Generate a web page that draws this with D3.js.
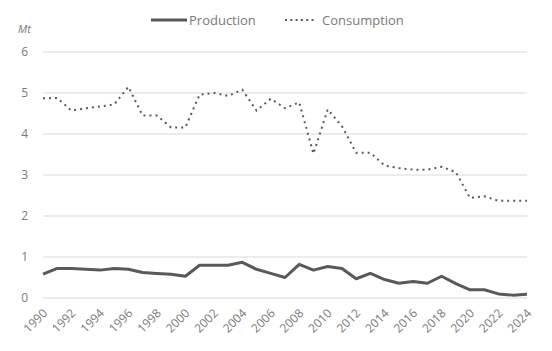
<!DOCTYPE html>
<html lang="en">
<head>
	<meta charset="UTF-8">
	<title>production vs consumption</title>
	<style>
		body { margin: 0; background: #fff; }
		text { font-family: "Open Sans", sans-serif; fill: #7a7a7a; }
	</style>
</head>
<body>
	<svg id="cont" width="552" height="351"></svg>
</body>
<script src="https://cdn.jsdelivr.net/npm/d3@7"></script>
<script>
	let years = d3.range(1990, 2025)
	let production = [0.58,0.72,0.72,0.70,0.68,0.72,0.70,0.62,0.60,0.58,0.53,0.80,0.80,0.80,0.87,0.70,0.60,0.50,0.82,0.68,0.77,0.72,0.47,0.60,0.45,0.36,0.40,0.36,0.53,0.35,0.20,0.20,0.10,0.07,0.09]
	let consumption = [4.87,4.88,4.57,4.63,4.67,4.72,5.15,4.45,4.45,4.16,4.16,4.96,5.00,4.93,5.08,4.57,4.86,4.63,4.77,3.52,4.60,4.19,3.54,3.54,3.23,3.17,3.13,3.13,3.20,3.07,2.44,2.48,2.37,2.37,2.37]
	let yticks = [0,1,2,3,4,5,6]
	let xticks = d3.range(1990, 2025, 2)

	let svg = d3.select("#cont")
	let x = d3.scaleLinear().domain([1990, 2024]).range([43, 527])
	let y = d3.scaleLinear().domain([0, 6]).range([298, 52])

	// grid
	svg.append("g").selectAll("line")
		.data(yticks)
		.enter().append("line")
		.attr("x1", 43).attr("x2", 527)
		.attr("y1", d => y(d)).attr("y2", d => y(d))
		.attr("stroke", "#d9d9d9").attr("stroke-width", 1)

	// y labels
	svg.append("g").selectAll("text")
		.data(yticks)
		.enter().append("text")
		.attr("x", 28).attr("y", d => y(d))
		.attr("dy", "0.35em")
		.attr("text-anchor", "end")
		.attr("font-size", 12)
		.text(d => d)

	svg.append("text")
		.attr("x", 18).attr("y", 33)
		.attr("font-size", 11)
		.attr("font-style", "italic")
		.text("Mt")

	// x labels
	svg.append("g").selectAll("text")
		.data(xticks)
		.enter().append("text")
		.attr("text-anchor", "end")
		.attr("font-size", 12)
		.attr("transform", d => "translate(" + (x(d) + 5) + ",314) rotate(-45)")
		.text(d => d)

	let line = d3.line().x((d, i) => x(years[i])).y(d => y(d))

	svg.append("path")
		.datum(consumption)
		.attr("d", line)
		.attr("fill", "none")
		.attr("stroke", "#595959")
		.attr("stroke-width", 2)
		.attr("stroke-dasharray", "2,4")

	svg.append("path")
		.datum(production)
		.attr("d", line)
		.attr("fill", "none")
		.attr("stroke", "#595959")
		.attr("stroke-width", 3)
		.attr("stroke-linejoin", "round")

	// legend
	let leg = svg.append("g")
	leg.append("line").attr("x1", 151).attr("x2", 187).attr("y1", 20).attr("y2", 20)
		.attr("stroke", "#595959").attr("stroke-width", 3)
	leg.append("text").attr("x", 189).attr("y", 20).attr("dy", "0.35em")
		.attr("font-size", 13).text("Production")
	leg.append("line").attr("x1", 285).attr("x2", 315).attr("y1", 20).attr("y2", 20)
		.attr("stroke", "#595959").attr("stroke-width", 2).attr("stroke-dasharray", "2,3.3")
	leg.append("text").attr("x", 322).attr("y", 20).attr("dy", "0.35em")
		.attr("font-size", 13).text("Consumption")
</script>
</html>
